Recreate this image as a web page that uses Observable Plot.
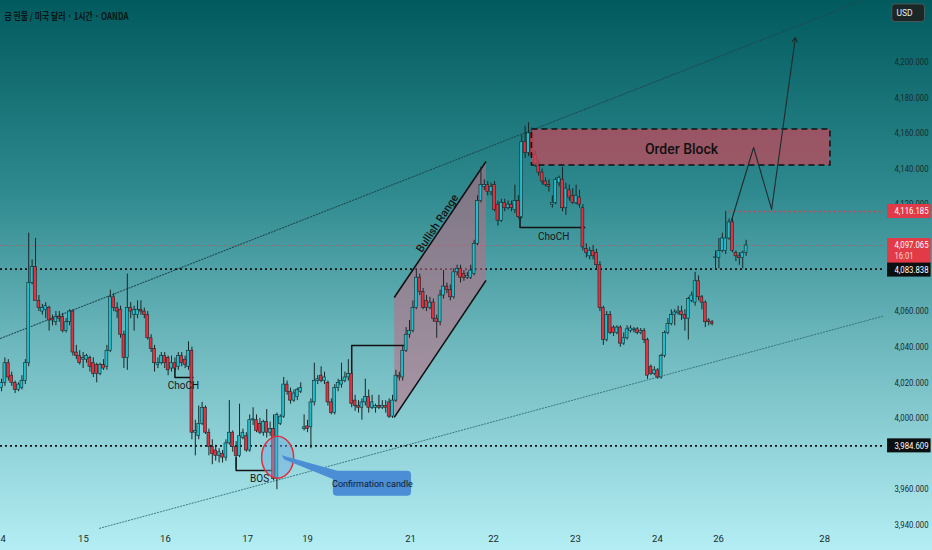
<!DOCTYPE html>
<html><head><meta charset="utf-8">
<script src="https://cdn.jsdelivr.net/npm/d3@7"></script>
<script src="https://cdn.jsdelivr.net/npm/@observablehq/plot@0.6"></script>
<style>
html,body{margin:0;padding:0;}
#wrap{width:932px;height:550px;position:relative;overflow:hidden;
background:linear-gradient(to bottom,#005a5e 0%,#2f8a8f 35%,#6cb7bc 62%,#b4eef4 100%);}
svg{display:block;}
</style></head>
<body><div id="wrap"></div>
<script>
// ---------------- data ----------------
const title = "금 현물 / 미국 달러 · 1시간 · OANDA";
const candleOpen = [4017,4020,4031,4024,4020,4016,4017,4021,4031,4076,4085,4066,4060,4061,4062,4056,4054,4057,4057,4049,4054,4060,4037,4035,4033,4033,4034,4031,4030,4025,4030,4029,4038,4068,4062,4061,4047,4034,4062,4058,4058,4061,4060,4058,4045,4039,4030,4031,4035,4034,4028,4031,4029,4035,4033,4029,4038,3992,3990,3997,4006,3992,3984,3982,3979,3980,3978,3986,3992,3984,3979,3989,3990,3982,3998.9,3999,3997,3992,3998,3992,3994,3966,3997,4001,4019,4015,4010,4012,4015,3994,3995.5,3995,4009,4021,4024,4021,4020,4009,4003,4017,4019,4021,4023,4025,4010,4007,4006,4009,4012,4006,4006,4007,4006,4007,4009,4001,4010,4024,4023,4038,4047,4049,4062,4079,4071,4066,4062,4065,4056,4054,4069,4074,4072,4068,4082,4084,4081,4079,4079,4081,4098,4122,4130,4131,4127,4131,4120,4111,4121,4118,4120,4117,4122,4113,4155,4149,4160,4148,4143,4138,4133,4131,4120,4121,4132,4134,4118,4128,4125,4121,4124,4118,4095,4091,4094,4093,4086,4062,4044,4058,4051,4048,4051,4042,4045,4049,4049.4,4050,4048,4049,4044,4029,4025,4027,4023,4035,4048,4053,4058,4059,4060,4058,4056,4066,4065,4077,4068,4065,4055,4054,4090,4090,4094,4094,4101,4110,4093,4091,4090,4093];
const candleHigh = [4022,4034,4033,4026,4021,4020,4024,4033,4104,4089,4101,4069,4064,4065,4063,4058,4060,4060,4059,4056,4061,4061,4041,4038,4037,4036,4035,4034,4031,4031,4033,4041,4072,4070,4065,4063,4049,4081,4065,4063,4066,4066,4062,4060,4047,4041,4034,4037,4037,4035,4035,4034,4037,4037,4035,4043,4040,3999,4007,4009,4007,3994,3988,3985,3983,3982,3988,4010,3993,3987,4008,3994,3992,4002,4006,4002,4000,3999,4005,3998,4002,4003,4002,4023,4021,4017,4016,4017,4020,4002,3999,4011,4031,4024,4029,4026,4021,4011,4019,4022,4031,4026,4033,4027,4013,4010,4011,4022,4016,4013,4008,4013,4010,4010,4011,4013,4027,4026,4041,4051,4055,4066,4084,4081,4073,4069,4068,4067,4058,4072,4083,4076,4075,4084,4086,4086,4083,4082,4086,4100,4125,4141,4134,4133,4132,4133,4122,4123,4123,4122,4122,4131,4125,4159,4164,4166,4163,4150,4145,4140,4135,4134,4125,4135,4136,4141,4132,4131,4129,4131,4128,4120,4098,4096,4097,4095,4088,4063,4060,4060,4052,4052,4052,4048,4052,4052,4051,4051,4050.5,4050.5,4045,4030,4029,4028,4036,4049,4056,4061,4061,4063,4063,4061,4068,4071,4082,4080,4069,4066,4056,4055,4094,4101,4104,4116.185,4112,4112,4094,4093,4094,4100];
const candleLow = [4015,4018,4021,4018,4014,4015,4016,4019,4029,4075,4083,4060,4058,4056,4049,4052,4052,4054,4048,4048,4052,4035,4033,4030,4028,4031,4026,4023,4020,4024,4027,4027,4037,4060,4056,4045,4028,4027,4056,4049,4056,4058,4056,4044,4037,4026,4028,4030,4028,4024,4026,4026,4027,4029,4028,4027,3988,3979,3988,3996,3991,3979,3974,3976,3975,3975,3976,3985,3981,3972,3978,3988,3981,3981,3996,3992,3991,3990,3989,3990,3965,3960,3996,4000,4013,4008,4009,4010,4014,3993,3992,3983,4007,4019,4020,4019,4007,4002,4002,4015,4017,4020,4021,4006,4004,4003,3999,4007,4003,4005,4003,4005,4005,4003,4000,4000,4009,4021,4021,4037,4045,4048,4061,4069,4061,4060,4061,4054,4045,4052,4067,4070,4066,4067,4080,4076,4077,4078,4078,4080,4097,4121,4128,4125,4125,4116,4108,4110,4116,4117,4116,4115,4112,4112,4146,4147,4146,4141,4136,4131,4130,4127,4118,4120,4130,4116,4114,4122,4120,4120,4118,4094,4090,4089,4089,4084,4060,4041,4043,4047,4046,4047,4040,4041,4044,4048,4048,4047,4047,4042,4022,4024,4024,4022,4022,4034,4047,4052,4052,4058,4055,4049,4044,4065,4063,4066,4061,4051,4052,4052,4084,4084,4093,4092,4100,4093,4088,4086,4084,4091];
const candleClose = [4020,4031,4023,4020,4016,4019,4021,4031,4076,4085,4066,4062,4062,4063,4055,4055,4057,4056,4049,4054,4060,4037,4035,4031,4034,4035,4029,4025,4025,4030,4028,4038,4068,4062,4060,4047,4034,4062,4060,4061,4061,4060,4058,4045,4039,4031,4031,4035,4031,4027,4031,4028,4035,4031,4030,4038,3992,3993,3997,4006,3992,3984,3980,3979,3981,3978,3986,3992,3984,3979,3990,3992,3982,3999,3999.5,3993,3992,3998,3992,3994,3966,4002,4001,4019,4015,4010,4014,4016,4017,3995,3994,4009,4021,4022,4021,4023,4009,4003,4017,4020,4021,4023,4025,4008,4007,4006,4009,4012,4006,4009,4007,4006,4007,4006,4001,4010,4024,4023,4038,4047,4049,4062,4079,4071,4062,4062,4065,4056,4054,4069,4074,4072,4068,4082,4084,4079,4079,4080,4083,4098,4122,4131,4131,4127,4130,4117,4111,4121,4118,4120,4118,4122,4113,4155,4149,4160,4148,4143,4138,4133,4131,4130,4121,4134,4135,4118,4129,4124,4121,4125,4120,4096,4093,4094,4091,4086,4062,4044,4058,4048,4048,4051,4042,4045,4050,4050.5,4050,4048,4049,4044,4024,4025,4027,4023,4035,4048,4053,4058,4059.5,4060,4058,4056,4067,4069,4077,4068,4065,4054,4054,4053,4090.4,4094,4101,4101,4110,4094,4091,4090,4093,4097.065];

const yTicks = [3940,3960,4000,4020,4040,4060,4120,4140,4160,4180,4200];
const xTickPos = [-0.3,24.1,48.2,72.4,90,120.3,144.7,168.8,192.9,210.9,242.1];
const xTickLabels = ["14","15","16","17","19","21","22","23","24","26","28"];

const levelHigh = 4116.185, lastPrice = 4097.065, levelMid = 4083.838, levelLow = 3984.609;
const lastTime = "16:01";

// annotation geometry in (slot, price)
const upperChannel = [{s:-0.3,p:4044.9},{s:253.2,p:4234.6}];
const lowerChannel = [{s:28.8,p:3938.3},{s:260,p:4057.8}];
const rangePoly = [{s:115.5,p:4000.6},{s:115.5,p:4067.9},{s:142.5,p:4144.2},{s:142.5,p:4077.5}];
const rangeEdges = [{s1:115.5,p1:4067.9,s2:142.5,p2:4144.2},{s1:115.5,p1:4000.6,s2:142.5,p2:4077.5}];
const orderBlock = [{s1:156,s2:243.8,p1:4162.2,p2:4142.0}];
const chochLeft = [{s:51,p:4028.6},{s:51,p:4023.0},{s:56.3,p:4023.0}];
const bosLine = [{s:69,p:3978.1},{s:69,p:3970.8},{s:80.5,p:3970.8}];
const swingLine = [{s:103,p:4025.3},{s:103,p:4041.0},{s:119,p:4041.0}];
const chochRight = [{s:152.5,p:4112.8},{s:152.5,p:4107.2},{s:171.5,p:4107.2}];
const projection = [{s:214.7,p:4111.1},{s:221.2,p:4152.1},{s:226.5,p:4117.3}];
const projectionArrow = [{s1:226.5,p1:4117.3,s2:233.5,p2:4213.9}];
const confirmEllipse = [{s:81.2,p:3990.0},{s:84.5,p:3986.5},{s:85.9,p:3978.2},{s:84.5,p:3969.9},{s:81.2,p:3966.4},{s:77.9,p:3969.9},{s:76.5,p:3978.2},{s:77.9,p:3986.5}];
const calloutTail = [{s:82.4,p:3979.3},{s:83.2,p:3977.0},{s:98.5,p:3965.2},{s:98.5,p:3970.8}];
const calloutBox = [{s1:97.6,s2:120.6,p1:3970.3,p2:3956.3}];
const labels = [
  {s:53.5,p:4018.5,t:"ChoCH"},
  {s:162.4,p:4102.2,t:"ChoCH"},
  {s:75.9,p:3966.3,t:"BOS"}
];

// ---------------- build ----------------
const candles = candleOpen.map((o,i)=>({i, open:o, high:candleHigh[i], low:candleLow[i], close:candleClose[i]}));
const up = candles.filter(d=>d.close>=d.open), down = candles.filter(d=>d.close<d.open);
const teal = "#1fbfce", red = "#e5303f", ink = "#182626";
const axisFont = "Roboto, sans-serif";
const xTicks = xTickPos.map((p,i)=>({p, label:xTickLabels[i]}));
const fmt = d3.format(",.3f");
const tagX1 = 260.6, tagX2 = 273.4;
const pxPrice = 297.5/530; // price units per pixel, for tag heights
const redTags = [
  {y1:levelHigh+7*pxPrice, y2:levelHigh-7*pxPrice},
  {y1:lastPrice+7*pxPrice, y2:lastPrice-18*pxPrice}
];
const blackTags = [
  {y1:levelMid+6*pxPrice, y2:levelMid-8*pxPrice},
  {y1:levelLow+7*pxPrice, y2:levelLow-7*pxPrice}
];
const tagTexts = [
  {p:levelHigh, t:fmt(levelHigh)},
  {p:lastPrice, t:fmt(lastPrice)},
  {p:levelMid-1*pxPrice, t:fmt(levelMid)},
  {p:levelLow, t:fmt(levelLow)}
];

const chart = Plot.plot({
  width: 932, height: 550,
  marginLeft: 0, marginRight: 48, marginTop: 0, marginBottom: 20,
  x: {domain: [-0.3, 259.7], axis: null},
  y: {domain: [3937.1, 4234.6], axis: null},
  style: {background: "transparent", overflow: "visible", fontFamily: "Roboto, sans-serif"},
  marks: [
    // channel
    Plot.line(upperChannel, {x:"s", y:"p", stroke:"#1f4b52", strokeWidth:1.1, strokeDasharray:"1.2,1.8", clip:true}),
    Plot.line(lowerChannel, {x:"s", y:"p", stroke:"#2f6670", strokeOpacity:0.85, strokeWidth:1, strokeDasharray:"1.2,1.8", clip:true}),
    // levels
    Plot.ruleY([lastPrice], {stroke:"#e23a47", strokeWidth:0.8, strokeDasharray:"1,2.2"}),
    Plot.ruleY([levelMid], {stroke:"#101010", strokeWidth:1.6, strokeDasharray:"2,3"}),
    Plot.ruleY([levelLow], {stroke:"#101010", strokeWidth:1.6, strokeDasharray:"2,3"}),
    Plot.ruleY([levelHigh], {x1:214, x2:259.7, stroke:"#e23a47", strokeWidth:1.4, strokeDasharray:"2,3"}),
    // bullish range
    Plot.line(rangePoly, {x:"s", y:"p", curve:"linear-closed", fill:"rgba(195,105,130,0.55)", stroke:"none"}),
    Plot.link(rangeEdges, {x1:"s1", y1:"p1", x2:"s2", y2:"p2", stroke:"#111", strokeWidth:1.6}),
    Plot.text(["Bullish Range"], {x:128.2, y:4109.5, rotate:-56.5, fontSize:11, fill:"#151515", fontWeight:500}),
    // structure lines
    Plot.line(chochLeft, {x:"s", y:"p", stroke:"#111", strokeWidth:1.5}),
    Plot.line(bosLine, {x:"s", y:"p", stroke:"#111", strokeWidth:1.5}),
    Plot.line(swingLine, {x:"s", y:"p", stroke:"#111", strokeWidth:1.5}),
    Plot.line(chochRight, {x:"s", y:"p", stroke:"#111", strokeWidth:1.5}),
    // candles
    Plot.ruleX(candles, {x:"i", y1:"low", y2:"high", stroke:ink, strokeWidth:1}),
    Plot.rect(up, {x1:d=>d.i-0.42, x2:d=>d.i+0.42, y1:"open", y2:"close", fill:teal, stroke:ink, strokeWidth:0.6}),
    Plot.rect(down, {x1:d=>d.i-0.42, x2:d=>d.i+0.42, y1:"open", y2:"close", fill:red, stroke:ink, strokeWidth:0.6}),
    Plot.text(labels, {x:"s", y:"p", text:"t", fontSize:10, fill:"#161616"}),
    // order block
    Plot.rect(orderBlock, {x1:"s1", x2:"s2", y1:"p1", y2:"p2", fill:"rgba(200,70,90,0.72)", stroke:"#111", strokeWidth:1.5, strokeDasharray:"6,4"}),
    Plot.text(["Order Block"], {x:200, y:4151, fontSize:14, fill:"#111", fontWeight:500}),
    // projection
    Plot.line(projection, {x:"s", y:"p", stroke:"#1d2b2d", strokeWidth:1.1}),
    Plot.arrow(projectionArrow, {x1:"s1", y1:"p1", x2:"s2", y2:"p2", stroke:"#1d2b2d", strokeWidth:1.1, headLength:7}),
    // confirmation candle
    Plot.line(confirmEllipse, {x:"s", y:"p", curve:"catmull-rom-closed", fill:"rgba(110,170,225,0.45)", stroke:"#e0303e", strokeWidth:1.5}),
    Plot.line(calloutTail, {x:"s", y:"p", curve:"linear-closed", fill:"#4b8ed6", stroke:"none"}),
    Plot.rect(calloutBox, {x1:"s1", x2:"s2", y1:"p1", y2:"p2", fill:"#4b8ed6", rx:4}),
    Plot.text(["Confirmation candle"], {x:109.1, y:3963.3, fontSize:9, fill:"#0c1b2e"}),
    // title
    Plot.text([title], {frameAnchor:"top-left", dx:4, dy:19, textAnchor:"start", lineAnchor:"bottom", fontSize:10, fontWeight:700, fill:"#0a1616", fontFamily:"'Noto Sans CJK KR', sans-serif"}),
    // price axis
    Plot.text(yTicks, {y:d=>d, text:d=>fmt(d), frameAnchor:"right", dx:10, textAnchor:"start", fontSize:8.5, fill:"#1a2a2b", fontFamily:axisFont}),
    // time axis
    Plot.text(xTicks, {x:"p", text:"label", frameAnchor:"bottom", dy:11, fontSize:9.5, fill:"#1a2a2b", fontFamily:axisFont}),
    // price tags
    Plot.rect(redTags, {x1:tagX1, x2:tagX2, y1:"y1", y2:"y2", fill:"#e23a47"}),
    Plot.rect(blackTags, {x1:tagX1, x2:tagX2, y1:"y1", y2:"y2", fill:"#0b0f10"}),
    Plot.text(tagTexts, {y:"p", text:"t", frameAnchor:"right", dx:10, textAnchor:"start", fontSize:8.5, fill:"#ffffff", fontFamily:axisFont}),
    Plot.text([lastTime], {y:lastPrice-11*pxPrice, frameAnchor:"right", dx:10, textAnchor:"start", fontSize:8.5, fill:"#ffd9dc", fontFamily:axisFont}),
    // USD box
    Plot.rect([0], {x1:262, x2:271.6, y1:4232.4, y2:4222.5, fill:"#1b2727", stroke:"#4c5a5a", strokeWidth:1, rx:3}),
    Plot.text(["USD"], {x:263.2, y:4227.5, textAnchor:"start", fontSize:8.5, fill:"#e8f0f0", fontFamily:axisFont})
  ]
});
document.getElementById("wrap").appendChild(chart);
// condense price-scale texts and the title to TradingView's narrow widths
const squeeze = (t, target) => {
  if (t.getComputedTextLength() > target) {
    t.setAttribute("textLength", target);
    t.setAttribute("lengthAdjust", "spacingAndGlyphs");
  }
};
chart.querySelectorAll("text").forEach(t => {
  const s = t.textContent;
  if (/^\d,\d{3}\.\d{3}$/.test(s)) squeeze(t, 34);
  else if (s === lastTime) squeeze(t, 19);
  else if (s === title) squeeze(t, 124);
});
</script>
</body></html>
